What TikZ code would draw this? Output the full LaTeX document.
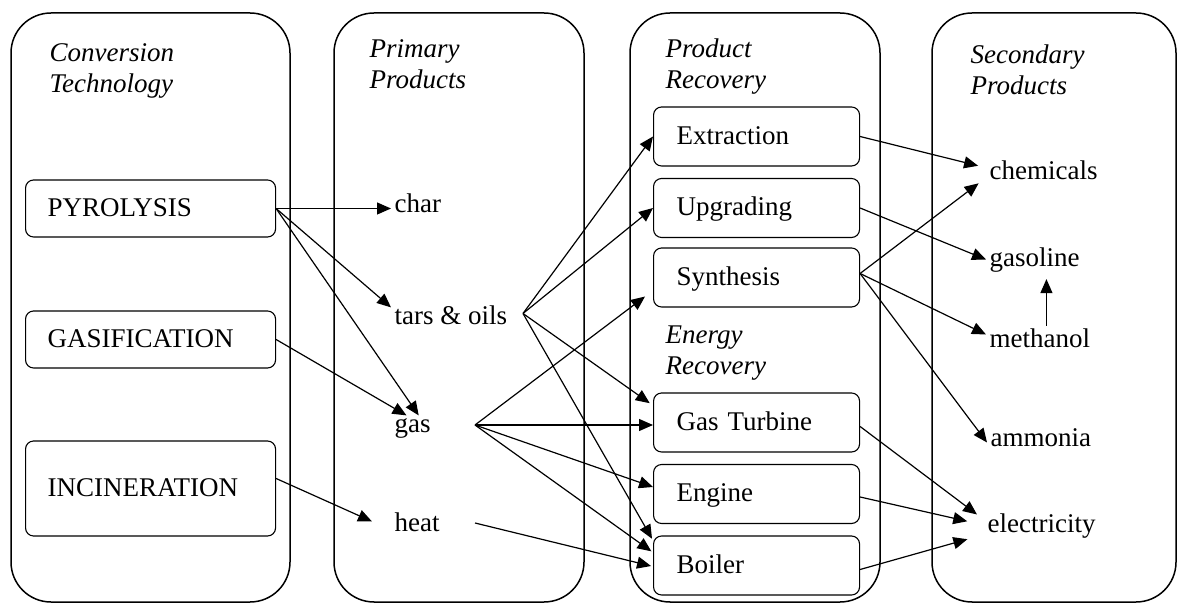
\documentclass[tikz,border=0pt]{standalone}
\usepackage{fontspec}
\setmainfont{Liberation Serif}
\usetikzlibrary{arrows.meta}
\newcommand\bodyfont{\fontsize{13.5}{15.5}\selectfont}
\tikzset{
  techbox/.style={draw,rounded corners=4pt,line width=0.55pt,anchor=west,align=left,
    text width=103pt,inner xsep=11pt,minimum height=28.5pt,text height=0.8em,text depth=0pt},
  recbox/.style={techbox,text width=80pt,inner xsep=11.5pt,minimum height=29.5pt},
  prod/.style={anchor=base west,inner sep=1.5pt,text height=0.7em,text depth=0.25em},
  coltitle/.style={anchor=base west,align=left,inner sep=0pt,font=\bodyfont\itshape},
}
\begin{document}
\begin{tikzpicture}[x=0.5pt,y=-0.5pt,font=\bodyfont,line width=0.6pt,
    line join=round,>={Triangle[length=7pt,width=6pt]}]
  \useasboundingbox (0,0) rectangle (1177,603);
  % columns
  \foreach \l/\r in {11/290,334/584,630/880,932/1176}
    \draw[line width=0.75pt,rounded corners=20pt] (\l,13) rectangle (\r,602);
  \node[coltitle] (tconv) at (49,93) {Conversion\\Technology};
  \node[coltitle] (tprim) at (369,89) {Primary\\Products};
  \node[coltitle] (tprod) at (665,89) {Product\\Recovery};
  \node[coltitle] (tener) at (665,375) {Energy\\Recovery};
  \node[coltitle] (tsec) at (970,95) {Secondary\\Products};
  % conversion technology
  \node[techbox] (pyr) at (25,208.5) {PYROLYSIS};
  \node[techbox] (gasf) at (25,339.5) {GASIFICATION};
  \node[techbox,minimum height=47.5pt] (inc) at (25,488.5) {INCINERATION};
  % primary products
  \node[prod] (char) at (391,213) {char};
  \node[prod] (tars) at (391,325) {tars \& oils};
  \node[prod] (gas) at (391,433) {gas};
  \node[prod,inner xsep=11pt] (heat) at (372,531) {heat};
  \coordinate (tarsR) at (523,313.5);
  \coordinate (gasR) at (475,425);
  \coordinate (heatR) at (475,523);
  % recovery
  \node[recbox] (ext) at (653,136.5) {Extraction};
  \node[recbox] (upg) at (653,208) {Upgrading};
  \node[recbox] (syn) at (653,277.5) {Synthesis};
  \node[recbox] (gt) at (653,422.5) {Gas Turbine};
  \node[recbox] (eng) at (653,494) {Engine};
  \node[recbox] (boil) at (653,565.5) {Boiler};
  % secondary products
  \node[prod,inner xsep=4pt] (chem) at (981,180) {chemicals};
  \node[prod] (gasl) at (986,267) {gasoline};
  \node[prod] (meth) at (986,348) {methanol};
  \node[prod] (amm) at (987,447) {ammonia};
  \node[prod,inner xsep=5pt] (elec) at (977,532) {electricity};
  % conversion -> primary
  \draw[->] (pyr.east) -- (pyr.east -| char.west);
  \draw[->] (pyr.east) -- (tars.north west);
  \draw[->] (pyr.east) -- (gas.65);
  \draw[->] (gasf.east) -- (gas.115);
  \draw[->] ([yshift=5pt]inc.east) -- ([yshift=2.5pt]heat.west);
  % primary -> recovery
  \foreach \s/\t/\d/\c in {tarsR/ext/0/0,tarsR/upg/0/0,tarsR/gt/8.5/2,tarsR/boil/12.5/1,
      gasR/syn/-6.5/5,gasR/eng/3.5/0,gasR/boil/6.5/1,heatR/boil/-0.5/1}
    \draw[->,shorten >=\c pt] (\s) -- ([yshift=\d pt]\t.west);
  \draw[->] (gasR) -- (gasR -| gt.west);
  % recovery -> secondary
  \draw[->,shorten >=1.5pt] (ext.east) -- ([yshift=4.5pt]chem.west);
  \draw[->] (upg.east) -- ([yshift=1.5pt]gasl.west);
  \draw[->,shorten >=1.5pt] ([yshift=2pt]syn.east) -- ([yshift=-3pt]chem.west);
  \draw[->] ([yshift=2pt]syn.east) -- ([yshift=4.5pt]meth.west);
  \draw[->] ([yshift=2pt]syn.east) -- (amm.west);
  \draw[->] ([yshift=-2pt]gt.east) -- ([yshift=6.5pt]elec.west);
  \draw[->,shorten >=5pt] ([yshift=-1.5pt]eng.east) -- ([yshift=2pt]elec.west);
  \draw[->,shorten >=5pt] ([yshift=-2pt]boil.east) -- ([yshift=-4.5pt]elec.west);
  \draw[->,shorten <=2.4pt,shorten >=1.75pt] ([xshift=3.3pt]meth.north)
    -- ([xshift=3.3pt]meth.north |- gasl.south);
\end{tikzpicture}
\end{document}
